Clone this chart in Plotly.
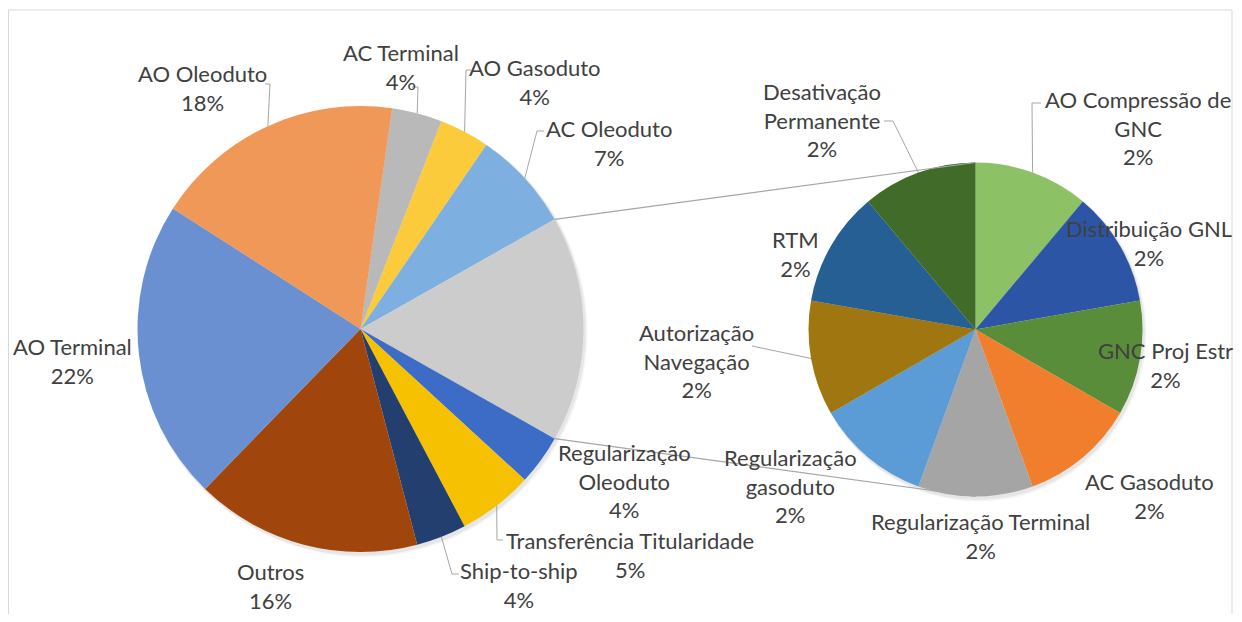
import math
import plotly.graph_objects as go

# browser window and the default 8px page margin around the plot
WIN_W, WIN_H = 1242, 622
OFF = 8
W, H = WIN_W - 2 * OFF, WIN_H - 2 * OFF

# ---------------- data ----------------
main_labels = ["AC Terminal", "AO Gasoduto", "AC Oleoduto", "Outros (detalhe)",
               "Regularização Oleoduto", "Transferência Titularidade", "Ship-to-ship",
               "Outros", "AO Terminal", "AO Oleoduto"]
main_values = [2, 2, 4, None, 2, 3, 2, 9, 12, 10]   # None = aggregated slice (2nd pie)

sub_labels = ["AO Compressão de GNC", "Distribuição GNL", "GNC Proj Estr", "AC Gasoduto",
              "Regularização Terminal", "Regularização gasoduto", "Autorização Navegação",
              "RTM", "Desativação Permanente"]
sub_values = [1, 1, 1, 1, 1, 1, 1, 1, 1]

main_colors = ["#B9B9B9", "#FBCB3C", "#7DAFE0", "#CCCCCC", "#3D6CC6",
               "#F6C100", "#223F70", "#A0460C", "#6A90D2", "#F09858"]
sub_colors = ["#8CC165", "#2D55A6", "#5A8D39", "#F07E2D", "#A5A5A5",
              "#5B9BD6", "#9F760F", "#255F94", "#406B29"]

# display text for each label (line breaks as in the chart)
main_text = {
    "AC Terminal": "AC Terminal", "AO Gasoduto": "AO Gasoduto", "AC Oleoduto": "AC Oleoduto",
    "Regularização Oleoduto": "Regularização<br>Oleoduto",
    "Transferência Titularidade": "Transferência Titularidade",
    "Ship-to-ship": "Ship-to-ship", "Outros": "Outros",
    "AO Terminal": "AO Terminal", "AO Oleoduto": "AO Oleoduto",
}
sub_text = {
    "AO Compressão de GNC": "AO Compressão de<br>GNC", "Distribuição GNL": "Distribuição GNL",
    "GNC Proj Estr": "GNC Proj Estr", "AC Gasoduto": "AC Gasoduto",
    "Regularização Terminal": "Regularização Terminal",
    "Regularização gasoduto": "Regularização<br>gasoduto",
    "Autorização Navegação": "Autorização<br>Navegação", "RTM": "RTM",
    "Desativação Permanente": "Desativação<br>Permanente",
}

agg_value = sum(sub_values)
main_vals = [agg_value if v is None else v for v in main_values]
grand_total = sum(main_vals)

# ---------------- layout geometry (window pixels) ----------------
MAIN_C, MAIN_R = (360.5, 329.0), 223.0
SUB_C, SUB_R = (975.5, 329.5), 167.0
AGG_IDX = 3
before = sum(main_vals[:AGG_IDX])
MAIN_ROT = 90 - (before + agg_value / 2) / grand_total * 360
SUB_ROT = 0

FONT = "Lato"
FSIZE = 22
TXT = "#404040"
LINE = "#A6A6A6"

main_pos = {
    "AC Terminal": (401, 67), "AO Gasoduto": (535, 81.5), "AC Oleoduto": (609, 142.5),
    "Regularização Oleoduto": (624, 481), "Transferência Titularidade": (630, 555),
    "Ship-to-ship": (519, 585), "Outros": (270, 586), "AO Terminal": (72, 361),
    "AO Oleoduto": (202, 87.5),
}
sub_pos = {
    "AO Compressão de GNC": (1138, 128), "Distribuição GNL": (1149, 243),
    "GNC Proj Estr": (1165, 365), "AC Gasoduto": (1149, 495.5),
    "Regularização Terminal": (980, 536), "Regularização gasoduto": (790, 486),
    "Autorização Navegação": (696, 361), "RTM": (795, 254),
    "Desativação Permanente": (822, 120),
}
main_leader = {
    "AO Oleoduto": [(265, 84), (270, 84)], "AC Terminal": [(412, 87), (418, 87)],
    "AO Gasoduto": [(471, 70), (466, 70)], "AC Oleoduto": [(544, 131), (537, 131)],
    "Transferência Titularidade": [(503, 540), (497, 540)],
    "Ship-to-ship": [(459, 574), (452, 574)],
}
sub_leader = {
    "Desativação Permanente": [(884, 121), (893, 121)],
    "AO Compressão de GNC": [(1041, 103), (1032, 103)],
    "Autorização Navegação": [(752, 346)],
}


def px(x):
    return (x - OFF) / W


def py(y):
    return 1 - (y - OFF) / H


def edge_point(center, r, rot, vals, i, frac=0.5):
    tot = sum(vals)
    a = rot + (sum(vals[:i]) + vals[i] * frac) / tot * 360
    a = math.radians(a)
    return center[0] + r * math.sin(a), center[1] - r * math.cos(a)


def domain(center, r):
    return dict(x=[px(center[0] - r), px(center[0] + r)],
                y=[py(center[1] + r), py(center[1] - r)])


fig = go.Figure()
fig.add_trace(go.Pie(
    labels=main_labels, values=main_vals, sort=False, direction="clockwise",
    rotation=MAIN_ROT, marker=dict(colors=main_colors, line=dict(width=0)),
    textinfo="none", hoverinfo="label+percent", domain=domain(MAIN_C, MAIN_R),
    showlegend=False))
fig.add_trace(go.Pie(
    labels=sub_labels, values=sub_values, sort=False, direction="clockwise",
    rotation=SUB_ROT, marker=dict(colors=sub_colors, line=dict(width=0)),
    textinfo="none", hoverinfo="label+value", domain=domain(SUB_C, SUB_R),
    showlegend=False))

shapes = []
shapes.append(dict(type="rect", xref="paper", yref="paper", x0=px(8.5), x1=px(1232),
                   y0=py(660), y1=py(10), line=dict(color="#D9D9D9", width=1),
                   fillcolor="rgba(0,0,0,0)", layer="below"))
for (c, r) in [(MAIN_C, MAIN_R), (SUB_C, SUB_R)]:
    for k, a in [(4, 0.04), (2.5, 0.06)]:
        shapes.append(dict(type="circle", xref="paper", yref="paper",
                           x0=px(c[0] - r + 1), x1=px(c[0] + r + k),
                           y0=py(c[1] + r + k + 1), y1=py(c[1] - r + 1),
                           line=dict(width=0), fillcolor=f"rgba(0,0,0,{a})", layer="below"))


def path(points):
    return "M " + " L ".join(f"{px(x):.6f},{py(y):.6f}" for x, y in points)


for frac, tgt in [(0.0, (SUB_C[0], SUB_C[1] - SUB_R)), (1.0, (SUB_C[0], SUB_C[1] + SUB_R))]:
    p = edge_point(MAIN_C, MAIN_R, MAIN_ROT, main_vals, AGG_IDX, frac)
    shapes.append(dict(type="path", xref="paper", yref="paper", path=path([p, tgt]),
                       line=dict(color=LINE, width=1.2)))

annotations = []
for i, lab in enumerate(main_labels):
    if lab not in main_pos:
        continue
    pct = round(main_vals[i] / grand_total * 100)
    x, y = main_pos[lab]
    annotations.append(dict(x=px(x), y=py(y), xref="paper", yref="paper", showarrow=False,
                            text=f"{main_text[lab]}<br>{pct}%", xanchor="center",
                            yanchor="middle", align="center",
                            font=dict(family=FONT, size=FSIZE, color=TXT)))
    if lab in main_leader:
        end = edge_point(MAIN_C, MAIN_R, MAIN_ROT, main_vals, i, 0.5)
        shapes.append(dict(type="path", xref="paper", yref="paper",
                           path=path(main_leader[lab] + [end]), line=dict(color=LINE, width=1)))

for i, lab in enumerate(sub_labels):
    pct = round(sub_values[i] / grand_total * 100)
    x, y = sub_pos[lab]
    annotations.append(dict(x=px(x), y=py(y), xref="paper", yref="paper", showarrow=False,
                            text=f"{sub_text[lab]}<br>{pct}%", xanchor="center",
                            yanchor="middle", align="center",
                            font=dict(family=FONT, size=FSIZE, color=TXT)))
    if lab in sub_leader:
        end = edge_point(SUB_C, SUB_R, SUB_ROT, sub_values, i, 0.5)
        shapes.append(dict(type="path", xref="paper", yref="paper",
                           path=path(sub_leader[lab] + [end]), line=dict(color=LINE, width=1)))

fig.update_layout(width=W, height=H, margin=dict(l=0, r=0, t=0, b=0),
                  paper_bgcolor="white", plot_bgcolor="white",
                  shapes=shapes, annotations=annotations,
                  font=dict(family=FONT, color=TXT))
fig.write_html("out.html")
